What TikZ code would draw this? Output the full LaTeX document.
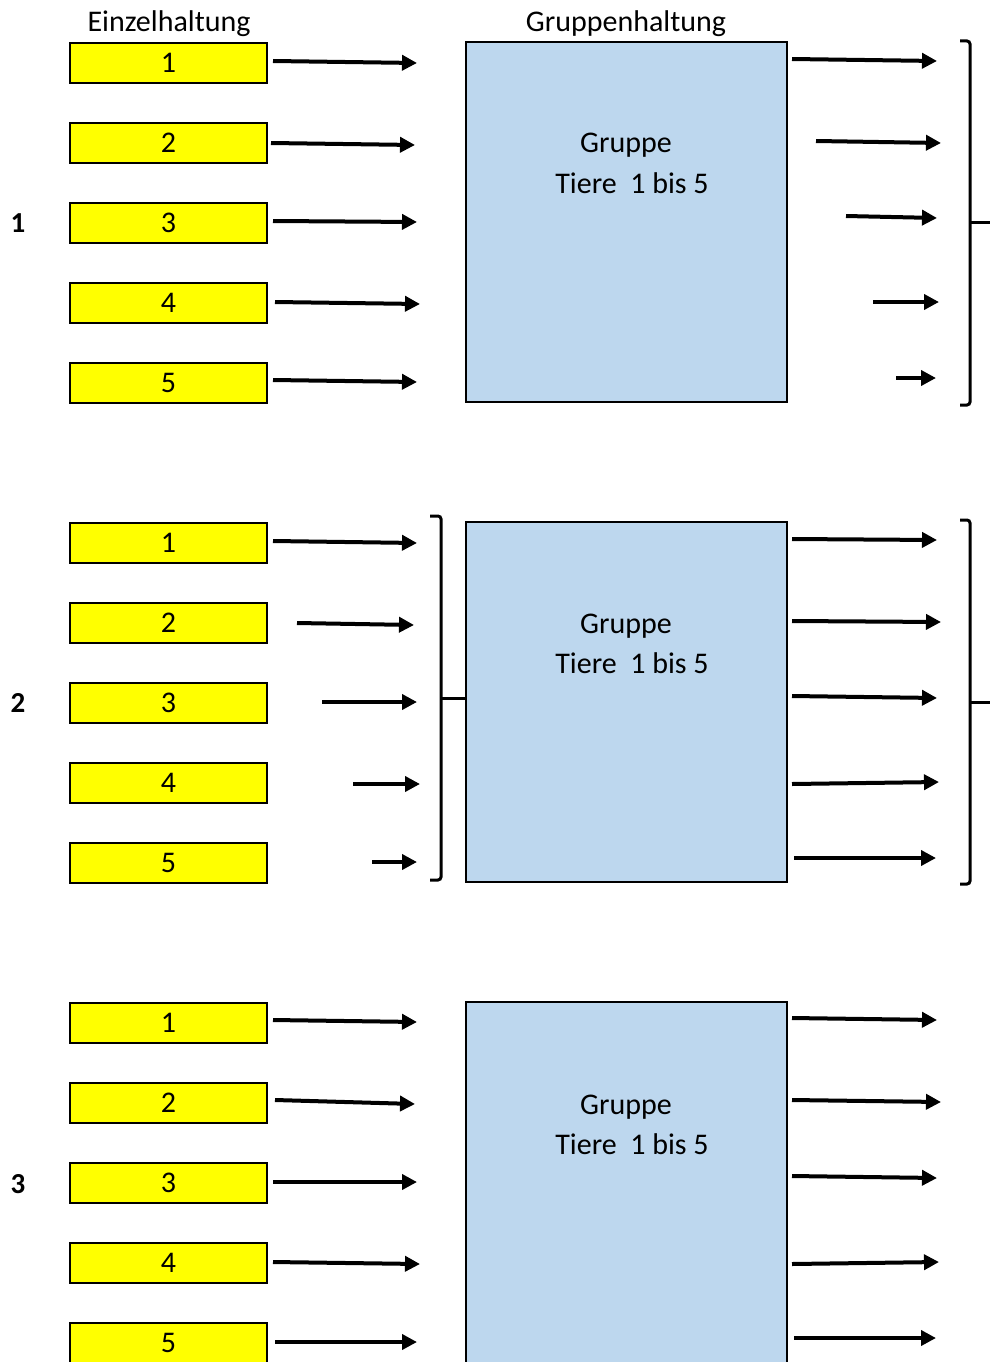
\documentclass[tikz,border=0pt]{standalone}
\usepackage{fontspec}
\setmainfont{Carlito}
\usetikzlibrary{arrows.meta}
\definecolor{ybox}{RGB}{255,255,0}
\definecolor{bbox}{RGB}{189,215,238}
\begin{document}
\begin{tikzpicture}[x=1pt,y=-1pt,
  single/.style={draw=black,line width=2.5pt,fill=ybox,minimum width=197pt,minimum height=40pt,inner sep=0pt,font=\fontsize{30}{36}\selectfont},
  groupbox/.style={draw=black,line width=2.5pt,fill=bbox,inner sep=0pt,minimum width=321pt},
  arr/.style={line width=4pt,-{Triangle[length=15pt,width=15pt]}},
  brk/.style={line width=3pt,rounded corners=3pt},
  tick/.style={line width=3pt},
  txt/.style={font=\fontsize{30}{36}\selectfont,inner sep=0pt,anchor=base},
  glabel/.style={font=\fontsize{29}{34}\selectfont\bfseries,inner sep=0pt,anchor=base},
]
\clip (0,0) rectangle (990,1362);
% headers
\node[txt] (h1) at (169,32) {Einzelhaltung};
\node[txt] (h2) at (626,32) {Gruppenhaltung};
% group boxes
\node[groupbox,minimum height=360pt] (grp0) at (626.5,222) {};
\node[groupbox,minimum height=360pt] (grp1) at (626.5,702) {};
\node[groupbox,minimum height=400pt] (grp2) at (626.5,1202) {};
% single boxes
\foreach \g in {0,1,2}
  \foreach \i in {1,...,5}
    \node[single] (s\g\i) at (168.5,{63+80*(\i-1)+480*\g}) {\i};
% group texts
\node[txt] (gt0) at (626,153) {Gruppe};
\node[txt] (tt0) at (632,193) {Tiere~ 1 bis 5};
\node[txt] (gt1) at (626,633) {Gruppe};
\node[txt] (tt1) at (632,673) {Tiere~ 1 bis 5};
\node[txt] (gt2) at (626,1114) {Gruppe};
\node[txt] (tt2) at (632,1154) {Tiere~ 1 bis 5};
% group labels
\node[glabel] (n1) at (18,232) {1};
\node[glabel] (n2) at (18,712) {2};
\node[glabel] (n3) at (18,1193) {3};
% arrows
\foreach \n/\xa/\ya/\xb/\yb in {
  a1/273/61/417/63, a2/271/143/415/145, a3/273/221/417/222, a4/275/302/420/304, a5/273/380/417/382,
  b1/792/59/937/61, b2/816/141/941/143, b3/846/216/937/218, b4/873/302/939/302, b5/896/378/936/378,
  c1/273/541/417/543, c2/297/623/414/625, c3/322/702/417/702, c4/353/784/420/784, c5/372/862/417/862,
  d1/792/539/937/540, d2/792/621/941/622, d3/792/696/937/698, d4/792/784/939/782, d5/794/858/936/858,
  e1/273/1020/417/1022, e2/275/1100/415/1104, e3/273/1182/417/1182, e4/273/1262/420/1264, e5/275/1342/417/1342,
  f1/792/1018/937/1020, f2/792/1100/941/1102, f3/792/1176/937/1178, f4/792/1264/939/1262, f5/794/1338/936/1338}
{
  \coordinate (\n s) at (\xa,\ya);
  \coordinate (\n e) at (\xb,\yb);
  \draw[arr] (\n s) -- (\n e);
}
% brackets
\draw[brk] (960,41) -- (970,41) -- (970,405) -- (960,405);
\draw[tick] (970,222) -- (990,222);
\draw[brk] (430,516) -- (441,516) -- (441,880) -- (430,880);
\draw[tick] (441,698) -- (grp1.west |- 0,698);
\draw[brk] (960,520) -- (970,520) -- (970,884) -- (960,884);
\draw[tick] (970,702) -- (990,702);
\end{tikzpicture}
\end{document}
